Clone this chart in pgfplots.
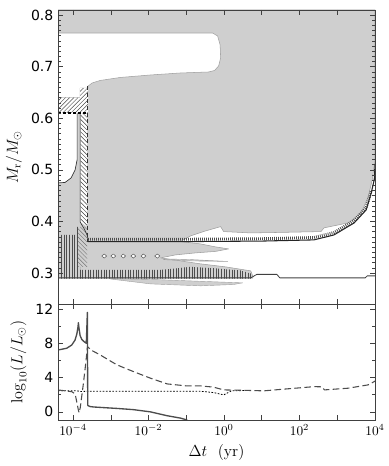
\documentclass[border=0pt]{standalone}
\usepackage{fontspec}
\setsansfont{DejaVu Sans}
\usepackage{pgfplots}
\pgfplotsset{compat=1.18}
\usetikzlibrary{patterns.meta}

\definecolor{convgray}{gray}{0.81}
\definecolor{axgray}{gray}{0.25}

% x is log10(Delta t / yr)
\pgfplotsset{kipp/.style={
    scale only axis, width=237.75pt,
    xmin=-4.4, xmax=4, xtick={-4,...,4},
    tick align=inside, tick pos=both,
    major tick length=4pt, minor tick length=2pt,
    axis line style={axgray, line width=0.6pt},
    every tick/.style={axgray, line width=0.5pt},
    axis on top, no markers,
    /pgf/number format/assume math mode=true,
    yticklabel style={font=\fontsize{10.5}{12}\selectfont\sffamily},
    ylabel style={font=\fontsize{12}{14}\selectfont},
    xlabel style={font=\fontsize{12}{14}\selectfont},
    every axis plot/.append style={line join=round},
}}

\begin{document}
\begin{tikzpicture}
\path[use as bounding box] (-43.5pt,-121.5pt) rectangle (247.5pt,228pt);

% ---------------- upper panel: M_r vs time ----------------
\begin{axis}[kipp, at={(0,0)}, anchor=south west, height=220.5pt,
    ymin=0.24, ymax=0.81, ytick={0.3,0.4,0.5,0.6,0.7,0.8}, minor y tick num=9,
    xticklabels={},
    yticklabel style={/pgf/number format/fixed, /pgf/number format/fixed zerofill, /pgf/number format/precision=1},
    ylabel={$M_{\mathrm{r}}/M_\odot$}]

% convective region
\addplot[fill=convgray, draw=gray!75, line width=0.4pt] coordinates {
 (-4.4,0.81) (4.0,0.81) (4.0,0.519) (3.926,0.4805) (3.819,0.4476) (3.633,0.4166)
 (3.287,0.3972) (2.649,0.3876) (2.569,0.3804) (1.505,0.3788) (0.707,0.3778)
 (-0.011,0.3804) (-0.090,0.390) (-0.489,0.3817) (-0.888,0.372) (-1.154,0.361)
 (-0.622,0.3565) (-0.223,0.3507) (0.122,0.3468) (-0.223,0.342) (-0.755,0.3391)
 (-1.287,0.3352) (-1.686,0.3294) (-1.154,0.3236) (-0.622,0.3178) (0.043,0.312)
 (0.707,0.3042) (0.761,0.2945) (0.761,0.290) (-4.4,0.290)} -- cycle;

% radiative notch near the top
\addplot[fill=white, draw=gray!75, line width=0.4pt] coordinates {
 (-4.4,0.7654) (-0.303,0.7654) (-0.170,0.7596) (-0.104,0.7422) (-0.090,0.717)
 (-0.144,0.7015) (-0.250,0.6928) (-0.410,0.6898) (-1.154,0.6879) (-1.952,0.684)
 (-2.750,0.6792) (-3.282,0.6734) (-3.495,0.6685) (-3.601,0.6627) (-3.601,0.6583)
 (-3.814,0.6583) (-3.814,0.640) (-4.4,0.640)} -- cycle;

% hatched strip
\addplot[fill=white, draw=none,
    postaction={pattern={Lines[angle=45,distance=2.2pt,line width=0.35pt]}, pattern color=black!70}]
 coordinates {(-4.4,0.640) (-3.814,0.640) (-3.814,0.6583) (-3.601,0.6583) (-3.601,0.610) (-4.4,0.610)} -- cycle;

% white pocket
\addplot[fill=white, draw=none] coordinates {
 (-4.4,0.610) (-3.894,0.610) (-3.894,0.5193) (-3.947,0.500) (-4.053,0.4844) (-4.213,0.4757) (-4.4,0.4747)} -- cycle;
\addplot[black!80, line width=0.5pt] coordinates {
 (-3.894,0.610) (-3.894,0.5193) (-3.947,0.500) (-4.053,0.4844) (-4.213,0.4757) (-4.4,0.4747)};

% hatched column
\addplot[fill=white, draw=none,
    postaction={pattern={Lines[angle=-45,distance=2.2pt,line width=0.35pt]}, pattern color=black!75}]
 coordinates {(-3.801,0.610) (-3.628,0.610) (-3.628,0.390) (-3.801,0.399)} -- cycle;
\addplot[draw=none, pattern={Lines[angle=-45,distance=2.2pt,line width=0.3pt]}, pattern color=black!55]
 coordinates {(-3.867,0.3895) (-3.628,0.390) (-3.628,0.312) (-3.867,0.312)} -- cycle;

% vertical hatching near the bottom
\addplot[draw=none, pattern={Lines[angle=90,distance=2pt,line width=0.35pt]}, pattern color=black!70]
 coordinates {(-4.4,0.374) (-3.894,0.374) (-3.894,0.3895) (-3.814,0.3895) (-3.814,0.3061)
 (-1.686,0.3061) (-0.888,0.312) (-0.2,0.309) (0.441,0.305) (0.761,0.298) (0.761,0.289) (-4.4,0.289)} -- cycle;

% small tongues
\addplot[fill=convgray, draw=gray!75, line width=0.3pt] coordinates {
 (-3.016,0.2893) (-1.686,0.2870) (-0.622,0.2840) (0.495,0.2810) (0.25,0.2778)
 (-0.622,0.2752) (-1.952,0.2790) (-3.016,0.2885)} -- cycle;
\addplot[fill=convgray, draw=gray!75, line width=0.3pt] coordinates {
 (-1.6,0.3275) (-0.9,0.3262) (0.1,0.3225) (-0.9,0.3235) (-1.6,0.3260)} -- cycle;

% tiny islands
\addplot[fill=white, draw=black!70, line width=0.35pt] coordinates {(-3.24,0.333) (-3.176,0.337) (-3.11,0.333) (-3.176,0.329)} -- cycle;
\addplot[fill=white, draw=black!70, line width=0.35pt] coordinates {(-3.00,0.333) (-2.936,0.337) (-2.87,0.333) (-2.936,0.329)} -- cycle;
\addplot[fill=white, draw=black!70, line width=0.35pt] coordinates {(-2.73,0.333) (-2.670,0.337) (-2.61,0.333) (-2.670,0.329)} -- cycle;
\addplot[fill=white, draw=black!70, line width=0.35pt] coordinates {(-2.47,0.333) (-2.404,0.337) (-2.34,0.333) (-2.404,0.329)} -- cycle;
\addplot[fill=white, draw=black!70, line width=0.35pt] coordinates {(-2.20,0.333) (-2.138,0.337) (-2.07,0.333) (-2.138,0.329)} -- cycle;
\addplot[fill=white, draw=black!70, line width=0.35pt] coordinates {(-1.84,0.333) (-1.766,0.337) (-1.70,0.333) (-1.766,0.329)} -- cycle;

% boundaries
\addplot[black!75, line width=0.6pt] coordinates {
 (-4.4,0.2906) (0.707,0.2906) (0.867,0.2974) (1.399,0.2974) (1.479,0.2906)
 (3.739,0.2906) (3.793,0.2945) (4,0.2945)};
\addplot[black!70, line width=2.2pt, dash pattern=on 0.6pt off 0.9pt] coordinates {
 (-3.601,0.3655) (-1.0,0.3655) (1.0,0.3665) (2.383,0.3688) (2.915,0.3785)
 (3.447,0.4017) (3.766,0.4269) (3.899,0.4598)};
\addplot[black!85, line width=0.8pt] coordinates {
 (-3.601,0.361) (-1.0,0.361) (1.0,0.362) (2.383,0.3643) (2.915,0.374)
 (3.447,0.3972) (3.766,0.4224) (3.899,0.4553) (3.979,0.4805) (4.0,0.51)};
\addplot[black!80, line width=0.6pt, dash pattern=on 3pt off 2pt] coordinates {(-3.614,0.6627) (-3.614,0.361)};
\addplot[black!80, line width=0.5pt] coordinates {(-3.814,0.610) (-3.814,0.3991) (-3.70,0.385) (-3.62,0.372) (-3.601,0.361)};
\addplot[black, line width=1.1pt, dash pattern=on 2.5pt off 1.2pt] coordinates {(-4.4,0.610) (-3.62,0.610)};
\end{axis}

% ---------------- lower panel: luminosities ----------------
\begin{axis}[kipp, at={(0,0)}, anchor=north west, height=87pt,
    ymin=-0.95, ymax=12.58, ytick={0,4,8,12}, minor y tick num=1,
    xticklabels={$10^{-4}$,,$10^{-2}$,,$10^{0}$,,$10^{2}$,,$10^{4}$},
    xlabel={$\Delta t$\ \ (yr)},
    ylabel={$\log_{10}(L/L_\odot)$}]

\addplot[black, line width=0.6pt, dash pattern=on 1.2pt off 1.2pt] coordinates {
 (-4.4,2.48) (-3.9,2.45) (-3.8,2.38) (-3.6,2.40) (-2.0,2.40) (-0.622,2.40)
 (-0.277,2.25) (-0.011,1.98) (0.2,2.45) (0.628,2.50)};

\addplot[black!70, line width=0.8pt, dash pattern=on 5pt off 2.5pt] coordinates {
 (-4.4,2.56) (-4.035,2.35) (-3.947,2.1) (-3.90,1.1) (-3.86,0.2) (-3.84,-0.1)
 (-3.81,0.5) (-3.726,3.34) (-3.655,6.06) (-3.62,7.6) (-3.50,7.15) (-3.282,6.64)
 (-2.838,5.48) (-2.404,4.70) (-1.952,3.93) (-1.508,3.26) (-1.0,3.03) (-0.622,3.03)
 (-0.277,2.88) (-0.011,2.56) (0.628,2.50) (1.053,2.45) (1.505,2.62) (2.383,2.94)
 (2.60,2.92) (2.66,2.56) (3.287,2.76) (3.819,3.15) (3.979,3.53) (4.0,3.6)};

\addplot[black!70, line width=1pt] coordinates {
 (-4.391,7.22) (-4.168,7.42) (-4.035,7.8) (-3.947,8.39) (-3.90,9.1) (-3.87,9.9)
 (-3.859,10.4) (-3.845,9.8) (-3.814,8.9) (-3.77,8.45) (-3.726,8.25) (-3.65,8.0)
 (-3.622,11.6) (-3.612,0.75) (-3.55,0.62) (-3.46,0.57) (-3.282,0.52) (-2.838,0.40)
 (-2.404,0.26) (-1.952,0.0) (-1.508,-0.45) (-1.154,-0.73) (-0.976,-0.95)};
\end{axis}
\end{tikzpicture}
\end{document}
